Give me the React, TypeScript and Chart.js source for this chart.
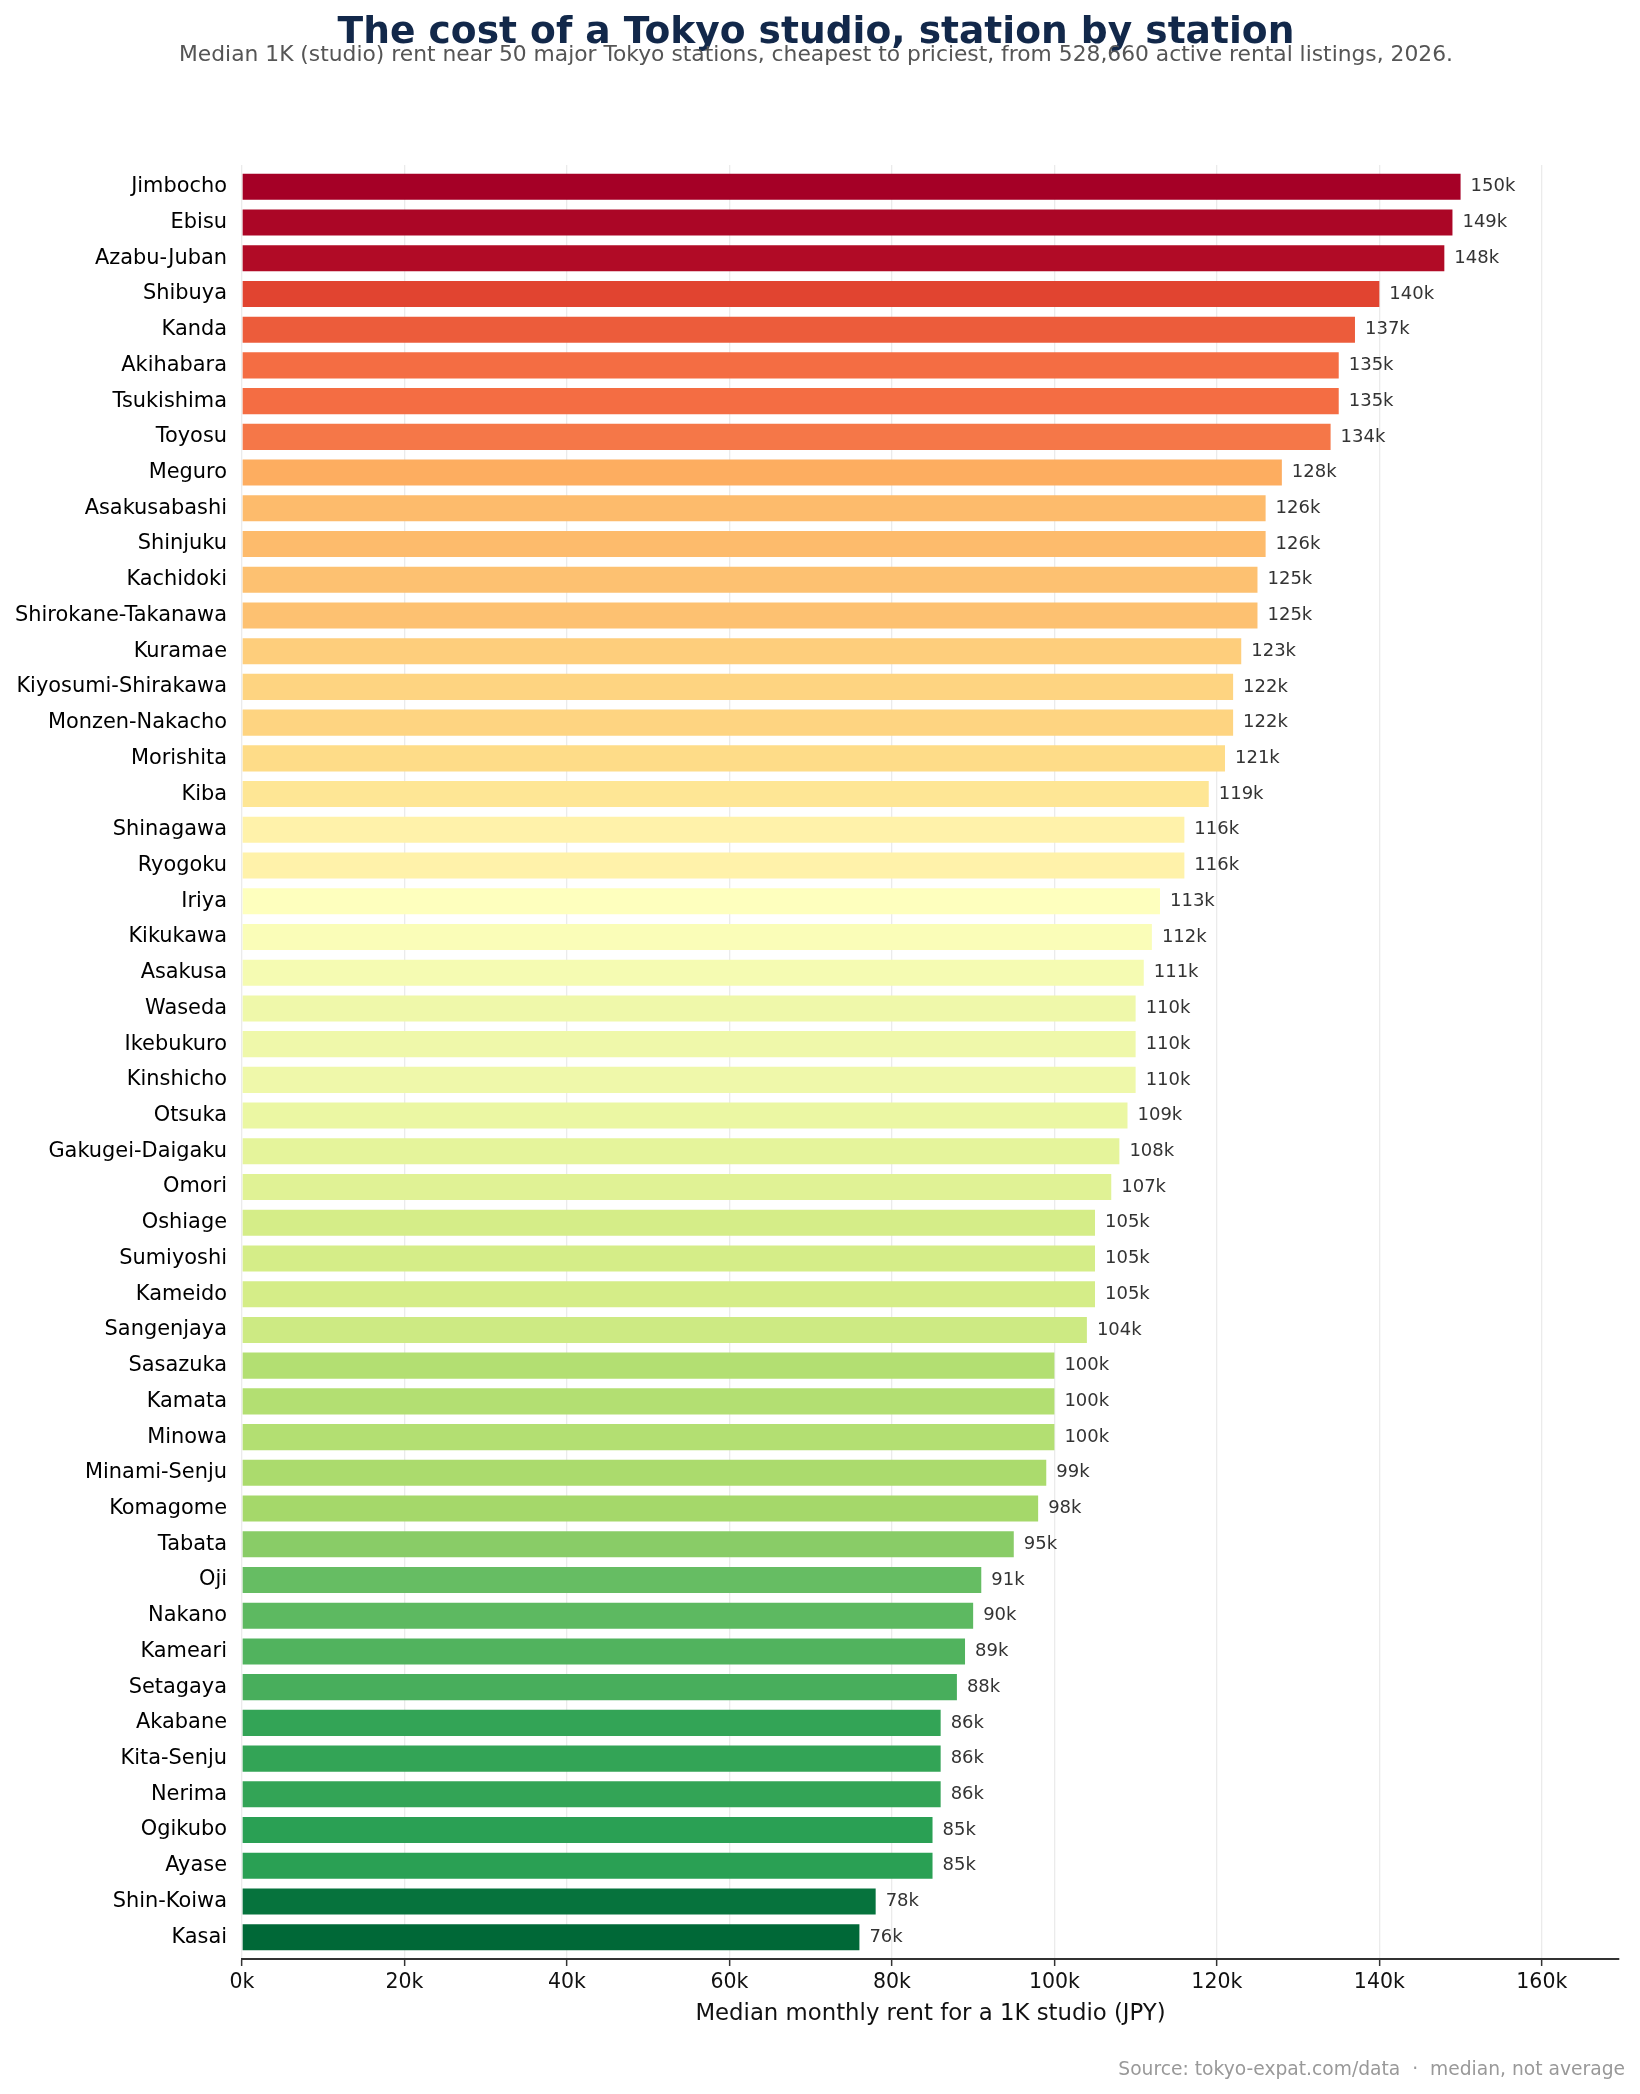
import { useEffect, useRef } from "react";
import { Chart, registerables } from "chart.js";

Chart.register(...registerables);

// Stations, priciest first (drawn top to bottom)
const stations = [
  "Jimbocho", "Ebisu", "Azabu-Juban", "Shibuya", "Kanda", "Akihabara", "Tsukishima", "Toyosu",
  "Meguro", "Asakusabashi", "Shinjuku", "Kachidoki", "Shirokane-Takanawa", "Kuramae",
  "Kiyosumi-Shirakawa", "Monzen-Nakacho", "Morishita", "Kiba", "Shinagawa", "Ryogoku", "Iriya",
  "Kikukawa", "Asakusa", "Waseda", "Ikebukuro", "Kinshicho", "Otsuka", "Gakugei-Daigaku", "Omori",
  "Oshiage", "Sumiyoshi", "Kameido", "Sangenjaya", "Sasazuka", "Kamata", "Minowa", "Minami-Senju",
  "Komagome", "Tabata", "Oji", "Nakano", "Kameari", "Setagaya", "Akabane", "Kita-Senju", "Nerima",
  "Ogikubo", "Ayase", "Shin-Koiwa", "Kasai",
];

// Median 1K rent, thousands of JPY
const rentK = [
  150, 149, 148, 140, 137, 135, 135, 134,
  128, 126, 126, 125, 125, 123,
  122, 122, 121, 119, 116, 116, 113,
  112, 111, 110, 110, 110, 109, 108, 107,
  105, 105, 105, 104, 100, 100, 100, 99,
  98, 95, 91, 90, 89, 88, 86, 86, 86,
  85, 85, 78, 76,
];

const xTickStep = 20;
const xMax = 169.5;
const rowPad = 0.61;

const TITLE = "The cost of a Tokyo studio, station by station";
const SUBTITLE =
  "Median 1K (studio) rent near 50 major Tokyo stations, cheapest to priciest, from 528,660 active rental listings, 2026.";
const X_TITLE = "Median monthly rent for a 1K studio (JPY)";
const FOOTER = "Source: tokyo-expat.com/data  \u00b7  median, not average";

const FONT = '"DejaVu Sans", "Liberation Sans", sans-serif';

// Red-Yellow-Green diverging ramp (11 stops)
const RDYLGN = [
  "#a50026", "#d73027", "#f46d43", "#fdae61", "#fee08b", "#ffffbf",
  "#d9ef8b", "#a6d96a", "#66bd63", "#1a9850", "#006837",
];

function hexToRgb(h: string): number[] {
  const n = parseInt(h.slice(1), 16);
  return [(n >> 16) & 255, (n >> 8) & 255, n & 255];
}

function rampColor(t: number): string {
  const idx = Math.min(255, Math.max(0, Math.floor(t * 256)));
  const s = idx / 255;
  const pos = s * (RDYLGN.length - 1);
  const i = Math.min(RDYLGN.length - 2, Math.floor(pos));
  const f = pos - i;
  const a = hexToRgb(RDYLGN[i]);
  const b = hexToRgb(RDYLGN[i + 1]);
  const c = a.map((v, k) => Math.round(v + (b[k] - v) * f));
  return `rgb(${c[0]},${c[1]},${c[2]})`;
}

const textPlugin = {
  id: "rentText",
  afterDatasetsDraw(chart: any) {
    const ctx = chart.ctx;
    const meta = chart.getDatasetMeta(0);
    ctx.save();
    ctx.font = `18px ${FONT}`;
    ctx.fillStyle = "#333333";
    ctx.textAlign = "left";
    ctx.textBaseline = "middle";
    meta.data.forEach((bar: any, i: number) => {
      ctx.fillText(`${rentK[i]}k`, bar.x + 10, bar.y);
    });
    ctx.restore();
  },
  afterDraw(chart: any) {
    const ctx = chart.ctx;
    const area = chart.chartArea;
    ctx.save();
    ctx.textAlign = "center";
    ctx.textBaseline = "alphabetic";
    ctx.fillStyle = "#12284a";
    ctx.font = `bold 37.6px ${FONT}`;
    ctx.fillText(TITLE, 816, 43);
    ctx.fillStyle = "#555555";
    ctx.font = `21.8px ${FONT}`;
    ctx.fillText(SUBTITLE, 816, 61);

    ctx.fillStyle = "#111111";
    ctx.font = `22.8px ${FONT}`;
    ctx.textBaseline = "middle";
    ctx.fillText(X_TITLE, (area.left + area.right) / 2, 2014);

    ctx.textAlign = "right";
    ctx.textBaseline = "alphabetic";
    ctx.fillStyle = "#999999";
    ctx.font = `18.7px ${FONT}`;
    ctx.fillText(FOOTER, 1625, 2075);
    ctx.restore();
  },
};

export default function App() {
  const ref = useRef<HTMLCanvasElement>(null);

  useEffect(() => {
    const lo = Math.min(...rentK);
    const hi = Math.max(...rentK);
    const colors = rentK.map((v) => rampColor((hi - v) / (hi - lo)));
    const points = rentK.map((v, i) => ({ x: v, y: i }));

    const chart = new Chart(ref.current as HTMLCanvasElement, {
      type: "bar",
      data: {
        datasets: [
          {
            data: points,
            backgroundColor: colors,
            borderWidth: 0,
            barPercentage: 0.73,
            categoryPercentage: 1,
          },
        ],
      },
      options: {
        indexAxis: "y",
        animation: false,
        responsive: false,
        devicePixelRatio: 1,
        layout: { padding: { top: 165, right: 21, bottom: 60, left: 0 } },
        plugins: {
          legend: { display: false },
          tooltip: { enabled: false },
          title: { display: false },
        },
        scales: {
          x: {
            type: "linear",
            min: 0,
            max: xMax,
            ticks: {
              stepSize: xTickStep,
              includeBounds: false,
              callback: (v: any) => `${v}k`,
              color: "#111111",
              font: { family: FONT, size: 20.5 },
              padding: 4,
              maxRotation: 0,
            },
            grid: {
              color: "#ebebeb",
              lineWidth: 1.3,
              tickColor: "#333333",
              tickLength: 7,
              tickWidth: 1.5,
            },
            border: { color: "#333333", width: 2 },
            afterFit: (s: any) => {
              s.height = 75;
            },
          },
          y: {
            type: "linear",
            reverse: true,
            offset: false,
            min: -rowPad,
            max: stations.length - 1 + rowPad,
            grid: { display: false, drawTicks: false, offset: false },
            border: { display: false },
            ticks: {
              stepSize: 1,
              includeBounds: false,
              autoSkip: false,
              callback: (v: any) => (Number.isInteger(v) && stations[v] ? stations[v] : ""),
              color: "#000000",
              font: { family: FONT, size: 20.9 },
              padding: 15,
            },
            afterFit: (s: any) => {
              s.width = 242;
            },
          },
        },
      } as any,
      plugins: [textPlugin],
    });
    return () => chart.destroy();
  }, []);

  return (
    <div style={{ position: "absolute", left: 0, top: 0, width: 1640, height: 2094, background: "#ffffff" }}>
      <canvas ref={ref} width={1640} height={2094} style={{ display: "block", width: 1640, height: 2094 }} />
    </div>
  );
}
